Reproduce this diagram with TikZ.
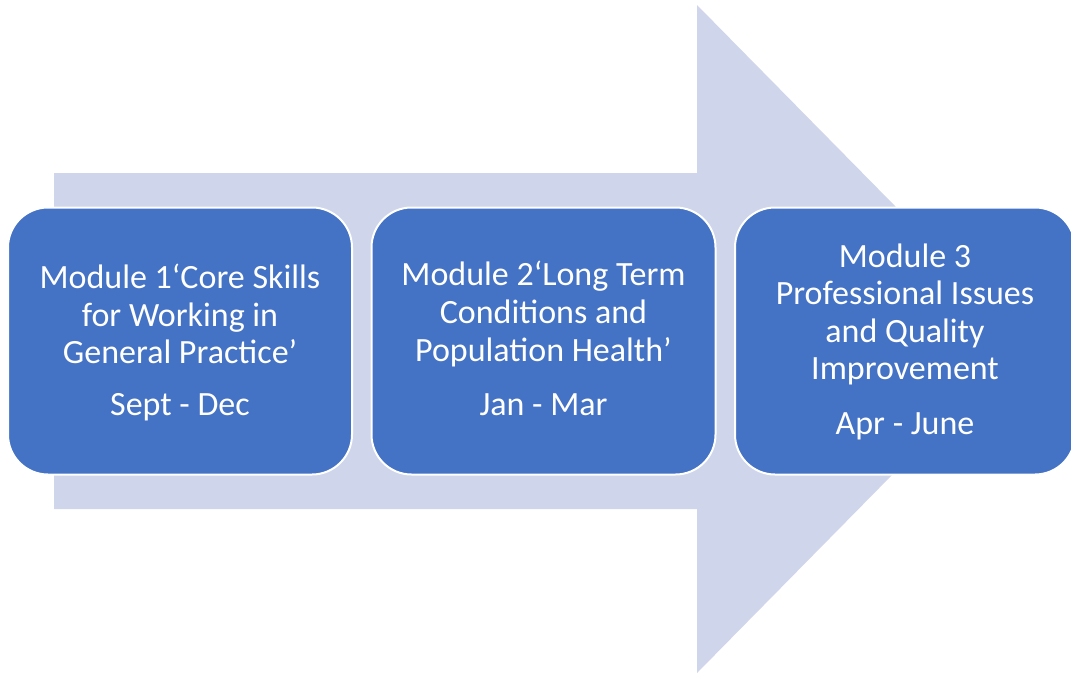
\documentclass[tikz,border=0pt]{standalone}
\usepackage{fontspec}
\setmainfont{Carlito}
\definecolor{boxblue}{HTML}{4472C4}
\definecolor{arrowc}{HTML}{CFD5EA}
\begin{document}
\begin{tikzpicture}[x=1pt,y=-1pt,
  modbox/.style={draw=white, line width=2pt, fill=boxblue, rounded corners=40pt, minimum width=344pt, minimum height=267pt, inner sep=0pt},
  txt/.style={text=white, align=center, font=\fontsize{34}{37.6}\selectfont, inner sep=0pt}]
\clip (0,0) rectangle (1071,673);
\useasboundingbox (0,0) rectangle (1071,673);
\fill[arrowc] (54,173) -- (697,173) -- (697,5) -- (1026,339) -- (697,673) -- (697,509) -- (54,509) -- cycle;
\node[modbox] (m1) at (180,341) {};
\node[modbox] (m2) at (543.5,341) {};
\node[modbox, minimum width=340pt] (m3) at (905,341) {};
\node[txt] (t1) at (180,314) {Module 1‘Core Skills\\for Working in\\General Practice’};
\node[txt, anchor=base] (d1) at (180,415) {Sept - Dec};
\node[txt] (t2) at (543.5,314) {Module 2‘Long Term\\Conditions and\\Population Health’};
\node[txt, anchor=base] (d2) at (543.5,415) {Jan - Mar};
\node[txt] (t3) at (905,314.5) {Module 3\\Professional Issues\\and Quality\\Improvement};
\node[txt, anchor=base] (d3) at (905,434.5) {Apr - June};
\end{tikzpicture}
\end{document}
